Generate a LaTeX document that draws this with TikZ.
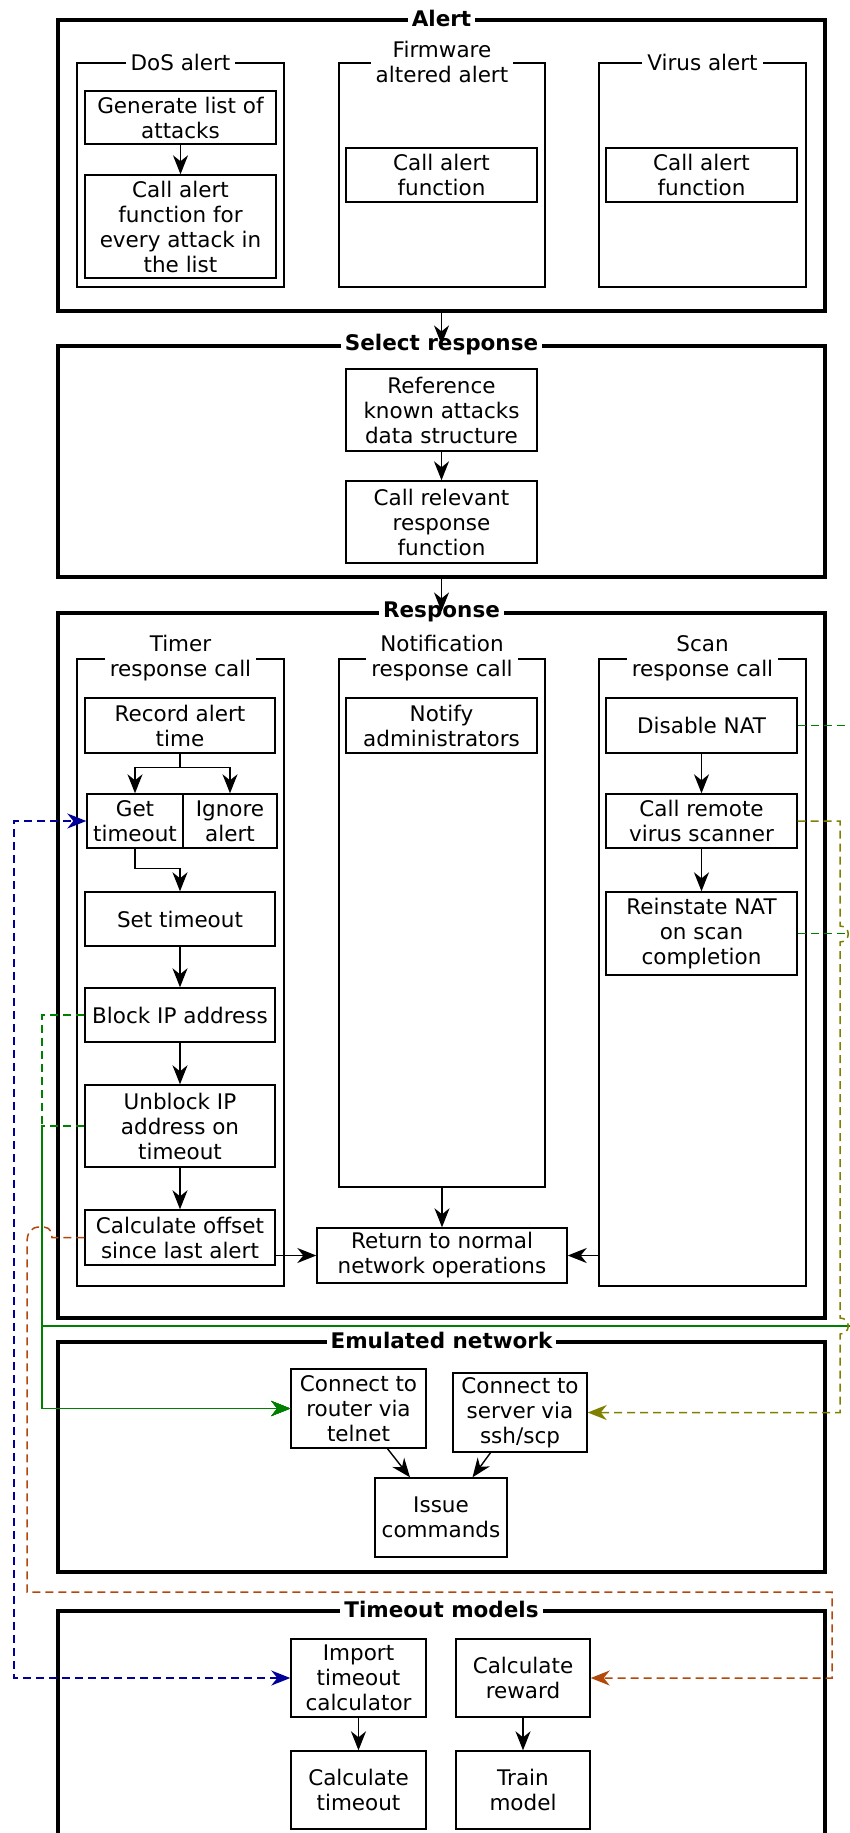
\documentclass[tikz,border=0pt]{standalone}
\usepackage{fontspec}
\setmainfont{DejaVu Sans}
\usetikzlibrary{arrows.meta}
\definecolor{lkgreen}{RGB}{0,128,0}
\definecolor{lkblue}{RGB}{0,0,153}
\definecolor{lkolive}{RGB}{128,128,0}
\definecolor{lkorange}{RGB}{178,72,10}

% box from its corners: style, name, x1, y1, x2, y2, text
\newcommand\mkbox[7]{\node[#1, minimum width={#5-#3}, minimum height={#6-#4}] (#2) at ({(#3+#5)/2},{(#4+#6)/2}) {#7};}

\begin{document}
\begin{tikzpicture}[x=1pt,y=-1pt,
  hd/.tip={Stealth[length=19pt,width=15pt,inset=6pt]},
  txt/.style={font=\fontsize{21.5pt}{25pt}\selectfont, align=center},
  box/.style={draw, line width=1.4pt, txt, inner sep=1pt},
  grp/.style={draw, line width=1.4pt, inner sep=0pt},
  outer/.style={draw, line width=3.2pt, inner sep=0pt},
  gtitle/.style={txt, fill=white, inner xsep=5pt, inner ysep=1pt},
  otitle/.style={txt, font=\fontsize{21.5pt}{25pt}\selectfont\bfseries, fill=white, inner xsep=4pt, inner ysep=0pt},
  arr/.style={line width=1.4pt, -hd},
  link/.style={line width=1.5pt, dash pattern=on 8pt off 5pt},
]
\useasboundingbox (0,0) rectangle (850,1833);
\fill[white] (0,0) rectangle (850,1833);
\clip (0,0) rectangle (850,1833);

% ---------- outer stages ----------
\mkbox{outer}{alertbox}{58}{20}{825}{311}{}
\mkbox{outer}{selbox}{58}{346}{825}{577}{}
\mkbox{outer}{respbox}{58}{613}{825}{1318}{}
\mkbox{outer}{emubox}{58}{1342}{825}{1572}{}
\mkbox{outer}{tmbox}{58}{1611}{825}{1900}{}

% ---------- Alert ----------
\mkbox{grp}{dosgrp}{77}{63}{284}{287}{}
\mkbox{grp}{fwgrp}{339}{63}{545}{287}{}
\mkbox{grp}{virgrp}{599}{63}{806}{287}{}
\node[gtitle] at (dosgrp.north) {DoS alert};
\node[gtitle] at (fwgrp.north) {Firmware\\altered alert};
\node[gtitle] at (virgrp.north) {Virus alert};
\mkbox{box}{gen}{85}{91}{276}{144}{Generate list of\\attacks}
\mkbox{box}{callalert}{85}{175}{276}{278}{Call alert\\function for\\every attack in\\the list}
\mkbox{box}{fwcall}{346}{148}{537}{202}{Call alert\\function}
\mkbox{box}{vircall}{606}{148}{797}{202}{Call alert\\function}

% ---------- Select response ----------
\mkbox{box}{ref}{346}{369}{537}{451}{Reference\\known attacks\\data structure}
\mkbox{box}{crr}{346}{481}{537}{563}{Call relevant\\response\\function}

% ---------- Response ----------
\mkbox{grp}{timergrp}{77}{659}{284}{1286}{}
\mkbox{grp}{notgrp}{339}{659}{545}{1187}{}
\mkbox{grp}{scangrp}{599}{659}{806}{1286}{}
\node[gtitle] at (timergrp.north) {Timer\\response call};
\node[gtitle] at (notgrp.north) {Notification\\response call};
\node[gtitle] at (scangrp.north) {Scan\\response call};

\mkbox{box}{rec}{85}{698}{275}{753}{Record alert\\time}
\mkbox{box}{get}{87}{794}{183}{848}{Get\\timeout}
\mkbox{box}{ign}{183}{794}{277}{848}{Ignore\\alert}
\mkbox{box}{set}{85}{892}{275}{946}{Set timeout}
\mkbox{box}{blk}{85}{988}{275}{1042}{Block IP address}
\mkbox{box}{unb}{85}{1085}{275}{1167}{Unblock IP\\address on\\timeout}
\mkbox{box}{calc}{85}{1210}{275}{1265}{Calculate offset\\since last alert}
\mkbox{box}{notify}{346}{698}{537}{753}{Notify\\administrators}
\mkbox{box}{dis}{606}{698}{797}{753}{Disable NAT}
\mkbox{box}{crv}{606}{794}{797}{848}{Call remote\\virus scanner}
\mkbox{box}{rei}{606}{892}{797}{975}{Reinstate NAT\\on scan\\completion}
\mkbox{box}{ret}{317}{1228}{567}{1283}{Return to normal\\network operations}

% ---------- Emulated network ----------
\mkbox{box}{rtr}{291}{1369}{426}{1448}{Connect to\\router via\\telnet}
\mkbox{box}{srv}{453}{1373}{587}{1452}{Connect to\\server via\\ssh/scp}
\mkbox{box}{iss}{375}{1478}{507}{1557}{Issue\\commands}

% ---------- Timeout models ----------
\mkbox{box}{imp}{291}{1639}{426}{1717}{Import\\timeout\\calculator}
\mkbox{box}{ctm}{291}{1751}{426}{1829}{Calculate\\timeout}
\mkbox{box}{rew}{456}{1639}{590}{1717}{Calculate\\reward}
\mkbox{box}{trn}{456}{1751}{590}{1829}{Train\\model}

% stage titles
\node[otitle] at (alertbox.north) {Alert};
\node[otitle] at (selbox.north) {Select response};
\node[otitle] at (respbox.north) {Response};
\node[otitle] at (emubox.north) {Emulated network};
\node[otitle] at (tmbox.north) {Timeout models};

% ---------- flow inside and between stages ----------
\draw[arr] (gen.south) -- (callalert.north);
\draw[arr] (alertbox.south) -- (selbox.north);
\draw[arr] (ref.south) -- (crr.north);
\draw[arr] (selbox.south) -- (respbox.north);
\draw[arr] (rec.south) -- ++(0,14) -| (get.north);
\draw[arr] (rec.south) -- ++(0,14) -| (ign.north);
\draw[arr] (get.south) -- ++(0,20) -| (set.north);
\draw[arr] (set.south) -- (blk.north);
\draw[arr] (blk.south) -- (unb.north);
\draw[arr] (unb.south) -- (calc.north);
\draw[arr] (calc.east |- ret.west) -- (ret.west);
\draw[arr] (notgrp.south) -- (ret.north);
\draw[arr] (scangrp.west |- ret.east) -- (ret.east);
\draw[arr] (dis.south) -- (crv.north);
\draw[arr] (crv.south) -- (rei.north);
\draw[arr] ([xshift=29pt]rtr.south) -- ([xshift=-31pt]iss.north);
\draw[arr] ([xshift=-29.5pt]srv.south) -- ([xshift=31.5pt]iss.north);
\draw[arr] (imp.south) -- (ctm.north);
\draw[arr] (rew.south) -- (trn.north);

% ---------- cross links ----------
\coordinate (railB) at (14,0);
\coordinate (railG) at (42,0);
\coordinate (railR) at (870,0);
\coordinate (trunk) at (0,1326);

% router commands (green)
\draw[link, lkgreen, -hd] (dis.east) -- (dis.east -| railR) -- (railR |- trunk) -- (railG |- trunk) -- (railG |- rtr.west) -- (rtr.west);
\draw[link, lkgreen, -hd] (rei.east) -- (rei.east -| railR) -- (railR |- trunk) -- (railG |- trunk) -- (railG |- rtr.west) -- (rtr.west);
\draw[link, lkgreen, -hd] (blk.west) -- (blk.west -| railG) -- (railG |- rtr.west) -- (rtr.west);
\draw[link, lkgreen, -hd] (unb.west) -- (unb.west -| railG) -- (railG |- rtr.west) -- (rtr.west);
% shared part of the green links
\draw[lkgreen, line width=1.5pt] (railR |- trunk) -- (railG |- trunk);
\draw[lkgreen, line width=1.5pt, -hd] (unb.west -| railG) -- (railG |- rtr.west) -- (rtr.west);

% virus scanner (olive), hopping over the green links
\draw[link, lkolive, -hd] (crv.east) -- (840,821) -- (840,926)
  .. controls (851,926) and (851,942) .. (840,942) -- (840,1318)
  .. controls (851,1318) and (851,1334) .. (840,1334) -- (840,1412.5) -- (srv.east);

% reward (orange), hopping over the green rail
\draw[link, lkorange, -hd] (calc.west) -- (52,1237.5)
  .. controls (52,1227) and (46,1227) .. (40,1227)
  .. controls (31,1227) and (27,1232) .. (27,1243)
  -- (27,1592) -- (832,1592) -- (832,1678) -- (rew.east);

% timeout calculator (blue)
\draw[link, lkblue, hd-hd] (imp.west) -- (imp.west -| railB) |- (get.west);

\end{tikzpicture}
\end{document}
